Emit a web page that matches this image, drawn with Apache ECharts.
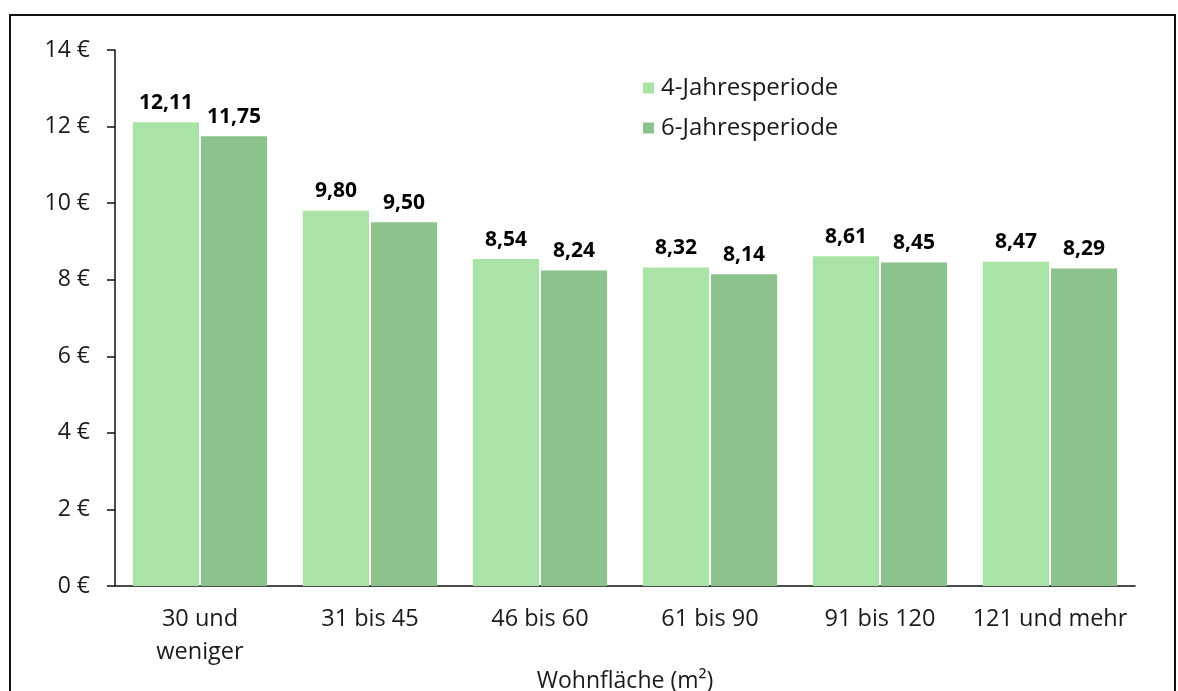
<!DOCTYPE html>
<html>
<head>
<meta charset="utf-8">
<script src="https://cdn.jsdelivr.net/npm/echarts@6/dist/echarts.min.js"></script>
<style>
  html, body { margin: 0; padding: 0; background: #fff; }
  #chart { width: 1178px; height: 691px; }
</style>
</head>
<body>
<div id="chart"></div>
<script>
// Wohnfläche categories and average rent per m² for the two periods
const categories = ['30 und\nweniger', '31 bis 45', '46 bis 60', '61 bis 90', '91 bis 120', '121 und mehr'];
const period4 = [12.11, 9.80, 8.54, 8.32, 8.61, 8.47];
const period6 = [11.75, 9.50, 8.24, 8.14, 8.45, 8.29];
const seriesNames = ['4-Jahresperiode', '6-Jahresperiode'];
const yTicks = [0, 2, 4, 6, 8, 10, 12, 14];

const FONT = '"Open Sans", "Noto Sans", sans-serif';
const fmt = v => v.toFixed(2).replace('.', ',');

const chart = echarts.init(document.getElementById('chart'), null, { renderer: 'canvas' });

const labelStyle = {
  show: true,
  position: 'top',
  distance: 9,
  fontFamily: FONT,
  fontWeight: 'bold',
  fontSize: 21,
  color: '#000',
  formatter: p => fmt(p.value)
};

chart.setOption({
  animation: false,
  backgroundColor: '#fff',
  graphic: [{
    type: 'rect',
    shape: { x: 10, y: 15, width: 1165, height: 720 },
    style: { fill: 'none', stroke: '#111', lineWidth: 2 },
    silent: true
  }],
  grid: { left: 115, right: 43, top: 50, bottom: 105, containLabel: false, outerBoundsMode: 'none' },
  legend: {
    orient: 'vertical',
    left: 638,
    top: 71,
    itemWidth: 11,
    itemHeight: 11,
    itemGap: 16,
    icon: 'rect',
    textStyle: { fontFamily: FONT, fontSize: 24, color: '#1a1a1a', padding: [0, 0, 0, 2] },
    data: seriesNames
  },
  xAxis: {
    type: 'category',
    data: categories,
    name: 'Wohnfläche (m²)',
    nameLocation: 'middle',
    nameGap: 84,
    nameMoveOverlap: false,
    nameTextStyle: { fontFamily: FONT, fontSize: 23, color: '#1a1a1a' },
    axisLine: { lineStyle: { color: '#111', width: 1.5 } },
    axisTick: { show: false },
    axisLabel: { interval: 0, fontFamily: FONT, fontSize: 23.5, color: '#1a1a1a', margin: 17, lineHeight: 33 }
  },
  yAxis: {
    type: 'value',
    min: 0,
    max: 14,
    interval: 2,
    axisLine: { show: true, lineStyle: { color: '#111', width: 1.5 } },
    axisTick: { show: true, length: 8, lineStyle: { color: '#111', width: 1.5 } },
    splitLine: { show: false },
    axisLabel: {
      fontFamily: FONT, fontSize: 23, color: '#1a1a1a', margin: 25,
      formatter: v => yTicks.includes(v) ? v + ' €' : ''
    }
  },
  series: [
    {
      name: seriesNames[0],
      type: 'bar',
      data: period4,
      barGap: '3%',
      barCategoryGap: '21%',
      itemStyle: { color: '#aae3a6' },
      label: labelStyle
    },
    {
      name: seriesNames[1],
      type: 'bar',
      data: period6,
      barGap: '3%',
      barCategoryGap: '21%',
      itemStyle: { color: '#8cc38c' },
      label: labelStyle
    }
  ]
});
</script>
</body>
</html>
